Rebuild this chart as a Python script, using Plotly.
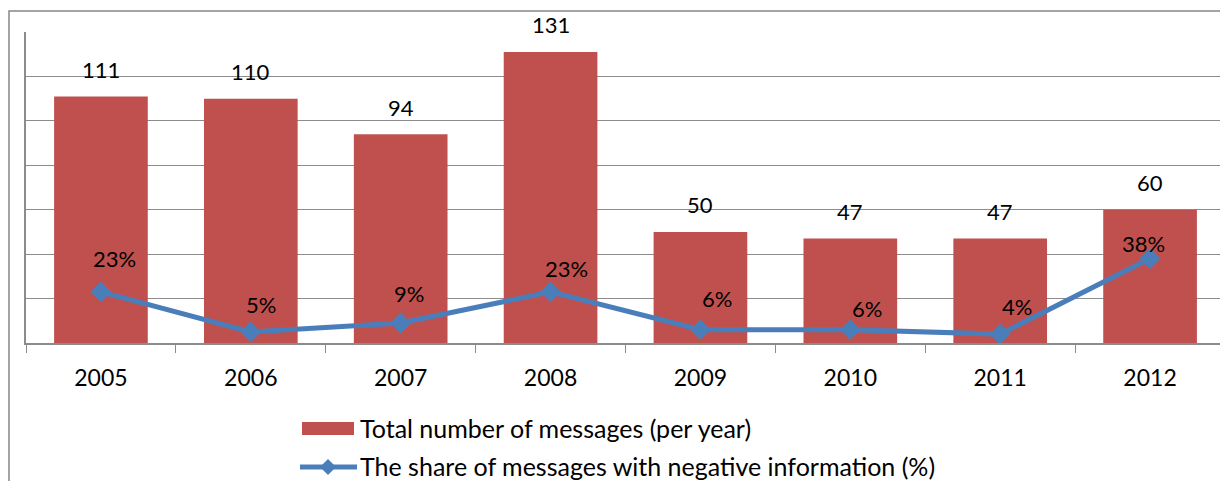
import plotly.graph_objects as go

years = ['2005', '2006', '2007', '2008', '2009', '2010', '2011', '2012']
total_messages = [111, 110, 94, 131, 50, 47, 47, 60]
negative_share = [23, 5, 9, 23, 6, 6, 4, 38]

bar_name = 'Total number of messages (per year)'
line_name = 'The share of messages with negative information (%)'

# label nudges (pixels) for the percentage labels, as placed in the original
pct_dx = [14, 10, 8, 16, 17, 17, 17, -7]
pct_dy = [33, 27, 30, 23, 31, 21, 28, 15]

RED = '#C0504D'
BLUE = '#4A7EBB'
GRID = '#8C8C8C'
FONT = 'Lato, Carlito, Calibri, sans-serif'

# page body adds an 8px margin, so the figure is shrunk by that much
OFF = 8
W, H = 1228 - OFF, 481 - OFF
ML, MR, MT, MB = 26 - OFF, 3, 32 - OFF, 138
PW, PH = W - ML - MR, H - MT - MB


def px(x):
    return (x - OFF - ML) / PW


def py(y):
    return (H - MB - (y - OFF)) / PH


fig = go.Figure()
fig.add_trace(go.Bar(x=years, y=total_messages, name=bar_name,
                     marker=dict(color=RED, line=dict(width=0)),
                     hovertemplate='%{x}<br>%{y}<extra></extra>'))
fig.add_trace(go.Scatter(x=years, y=negative_share, name=line_name, mode='lines+markers',
                         line=dict(color=BLUE, width=5),
                         marker=dict(symbol='diamond', size=16, color=BLUE),
                         hovertemplate='%{x}<br>%{y}%<extra></extra>'))

annotations = []
for i, v in enumerate(total_messages):
    annotations.append(dict(x=i, y=v, text=str(v), showarrow=False, yanchor='middle',
                            yshift=27, font=dict(size=22, color='black', family=FONT)))
for i, (v, dx, dy) in enumerate(zip(negative_share, pct_dx, pct_dy)):
    annotations.append(dict(x=i, y=v, text=f'{v}%', showarrow=False, yanchor='middle',
                            xshift=dx, yshift=dy, font=dict(size=22, color='black', family=FONT)))

# legend drawn below the plot, Excel style
annotations.append(dict(xref='paper', yref='paper', x=px(358), y=py(428), text=bar_name,
                        showarrow=False, xanchor='left', yanchor='middle',
                        font=dict(size=25, color='black', family=FONT)))
annotations.append(dict(xref='paper', yref='paper', x=px(358), y=py(466), text=line_name,
                        showarrow=False, xanchor='left', yanchor='middle',
                        font=dict(size=25, color='black', family=FONT)))

shapes = [
    # outer chart frame
    dict(type='rect', xref='paper', yref='paper', x0=px(9), x1=px(1300), y0=py(600), y1=py(11),
         line=dict(color='#868686', width=1.5), layer='below'),
    dict(type='rect', xref='paper', yref='paper', x0=px(302), x1=px(354), y0=py(435), y1=py(422),
         fillcolor=RED, line=dict(width=0)),
    dict(type='line', xref='paper', yref='paper', x0=px(300), x1=px(357), y0=py(467), y1=py(467),
         line=dict(color=BLUE, width=5)),
    dict(type='path', xref='paper', yref='paper',
         path=f'M {px(328)},{py(459)} L {px(336)},{py(467)} L {px(328)},{py(475)} L {px(320)},{py(467)} Z',
         fillcolor=BLUE, line=dict(width=0)),
]

fig.update_layout(
    width=W, height=H,
    margin=dict(l=ML, r=MR, t=MT, b=MB),
    paper_bgcolor='white', plot_bgcolor='white',
    showlegend=False,
    bargap=0.375,
    font=dict(family=FONT, size=22, color='black'),
    annotations=annotations,
    shapes=shapes,
)
fig.update_xaxes(type='category', range=[-0.5, len(years) - 0.5], automargin=False,
                 showline=True, linecolor=GRID, linewidth=1.5,
                 ticks='outside', tickson='boundaries', ticklen=8, tickcolor=GRID,
                 ticklabelstandoff=14,
                 showgrid=False, tickangle=0, tickfont=dict(size=23, family=FONT, color='black'))
fig.update_yaxes(range=[0, 140], dtick=20, showgrid=True, gridcolor=GRID, gridwidth=1,
                 showticklabels=False, showline=True, linecolor=GRID, linewidth=1.5,
                 mirror=True, zeroline=False, ticks='', automargin=False)

fig.write_html('out.html')
